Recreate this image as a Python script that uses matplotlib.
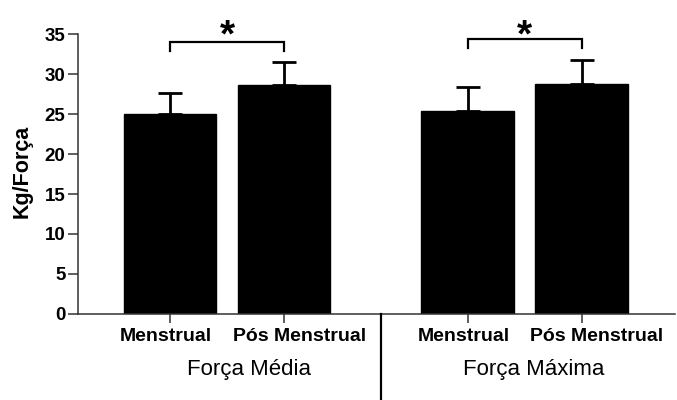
import matplotlib
matplotlib.use("Agg")
import matplotlib.pyplot as plt
from matplotlib.lines import Line2D
from matplotlib.transforms import blended_transform_factory, ScaledTranslation

# bar data: mean and upper error for each condition
conditions = ["Menstrual", "Pós Menstrual", "Menstrual", "Pós Menstrual"]
groups = ["Força Média", "Força Máxima"]
means = [24.95, 28.65, 25.4, 28.8]
errors = [2.65, 2.85, 3.0, 3.0]
positions = [0, 1, 2.61, 3.61]

plt.rcParams['font.family'] = ['Liberation Sans', 'DejaVu Sans']

fig = plt.figure(figsize=(6.77, 4.0), dpi=100)
ax = fig.add_axes([0.1152, 0.215, 0.8818, 0.70])

ax.bar(positions, means, width=0.81, color="black", edgecolor="black",
       yerr=[[0] * len(errors), errors], capsize=8.5,
       error_kw=dict(elinewidth=2, capthick=2, ecolor="black"))

ax.set_xlim(-0.81, 4.43)
ax.set_ylim(0, 35)
ax.set_yticks(range(0, 36, 5))
ax.set_xticks(positions)
ax.set_xticklabels(conditions, fontsize=14, fontweight="bold")
ax.tick_params(axis="y", labelsize=13.5, length=7, width=1.1, pad=2, color="#333333")
ax.tick_params(axis="x", length=6.5, width=1.1, pad=3.5, color="#333333")
for lbl in ax.get_yticklabels():
    lbl.set_fontweight("bold")
# nudge the condition labels apart so neighbours don't collide
for i, lbl in enumerate(ax.get_xticklabels()):
    dx = -3 / 72 if i % 2 == 0 else 11 / 72
    lbl.set_transform(lbl.get_transform() + ScaledTranslation(dx, 0, fig.dpi_scale_trans))
ax.set_ylabel("Kg/Força", fontsize=15.5, fontweight="bold")
ax.yaxis.set_label_coords(-0.076, 0.51)

for side in ["top", "right"]:
    ax.spines[side].set_visible(False)
for side in ["left", "bottom"]:
    ax.spines[side].set_linewidth(1.1)
    ax.spines[side].set_color("#333333")

# significance brackets
brackets = [(0, 1, 34.0, 32.9), (2.61, 3.61, 34.35, 33.3)]
for x0, x1, top, foot in brackets:
    ax.plot([x0, x0, x1, x1], [foot, top, top, foot], color="black",
            lw=1.6, clip_on=False, solid_joinstyle="miter")
    ax.text((x0 + x1) / 2, 33.5, "*", ha="center", va="baseline",
            fontsize=28, fontweight="bold", clip_on=False)

# group labels and divider below the axis
trans = blended_transform_factory(ax.transData, fig.transFigure)
ax.text(0.69, 0.075, groups[0], transform=trans, ha="center", va="center",
        fontsize=16)
ax.text(3.19, 0.075, groups[1], transform=trans, ha="center", va="center",
        fontsize=16)
fig.add_artist(Line2D([1.85, 1.85], [0, 0.215], transform=trans,
                      color="black", lw=1.6))

fig.savefig("out.png", dpi=100)
